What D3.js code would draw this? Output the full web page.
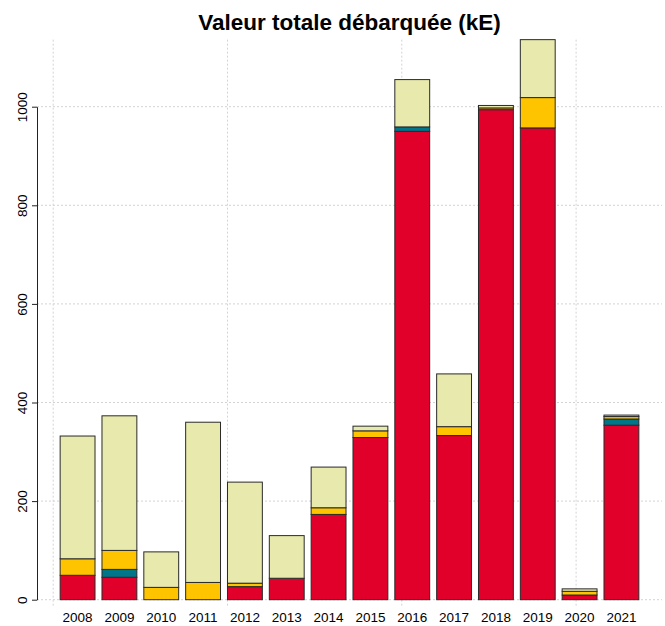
<!DOCTYPE html>
<html>
<head>
<meta charset="utf-8">
<script src="https://cdn.jsdelivr.net/npm/d3@7"></script>
<style>
  body { margin: 0; background: #fff; }
  text { font-family: "Liberation Sans", Arial, sans-serif; }
</style>
</head>
<body>
<div id="chart"></div>
<script>
// values (kE)
const years  = ["2008","2009","2010","2011","2012","2013","2014","2015","2016","2017","2018","2019","2020","2021"];
const red    = [49.5, 45.5, 0, 0, 26.5, 43.5, 173, 329, 950, 333, 994, 957, 9.5, 354];
const teal   = [0, 16, 0, 0, 0, 0, 0, 0, 9, 0, 0, 0, 0, 12.5];
const yellow = [33.5, 38.5, 25, 35, 7, 0, 13.5, 13.5, 0, 18, 3.5, 61.5, 7.5, 5];
const pale   = [249, 273, 72, 325, 205, 86.5, 82.5, 9.5, 96, 107, 5, 117.5, 5, 3];
const yTicks = [0, 200, 400, 600, 800, 1000];
const xGrid  = [0, 5, 10, 15];

const seriesKeys = ["red", "teal", "yellow", "pale"];
const colors = { red: "#E1002A", teal: "#00768A", yellow: "#FFC400", pale: "#E8E9AC" };

const width = 665, height = 626;

const table = years.map((y, i) => ({
  year: y, red: red[i], teal: teal[i], yellow: yellow[i], pale: pale[i]
}));
const stacked = d3.stack().keys(seriesKeys)(table);
const maxTotal = d3.max(table, d => d.red + d.teal + d.yellow + d.pale);

// unit scale like R barplot (bar width 1, space 0.2)
const xu = d3.scaleLinear().domain([-0.464, 17.464]).range([37, 662]);
const x = d3.scaleBand().domain(years)
    .range([xu(0.2), xu(16.8)])
    .paddingInner(1 / 6)
    .paddingOuter(0);

const y = d3.scaleLinear().domain([0, 1000]).range([599.7, 106.7]);

const svg = d3.select("#chart").append("svg")
    .attr("width", width)
    .attr("height", height);

// grid
svg.append("g")
    .selectAll("line.h")
    .data(yTicks)
    .join("line")
    .attr("x1", xu.range()[0]).attr("x2", xu.range()[1])
    .attr("y1", d => y(d)).attr("y2", d => y(d))
    .attr("stroke", "#d3d3d3")
    .attr("stroke-dasharray", "2,2");

svg.append("g")
    .selectAll("line.v")
    .data(xGrid)
    .join("line")
    .attr("x1", d => xu(d)).attr("x2", d => xu(d))
    .attr("y1", y(maxTotal)).attr("y2", y(-16))
    .attr("stroke", "#d3d3d3")
    .attr("stroke-dasharray", "2,2");

// bars
svg.append("g")
    .selectAll("g")
    .data(stacked)
    .join("g")
    .attr("fill", d => colors[d.key])
    .selectAll("rect")
    .data(d => d.filter(s => s[1] - s[0] > 0))
    .join("rect")
    .attr("x", d => x(d.data.year))
    .attr("width", x.bandwidth())
    .attr("y", d => y(d[1]))
    .attr("height", d => y(d[0]) - y(d[1]))
    .attr("stroke", "#2a2a2a")
    .attr("stroke-width", 1);

// y axis (R style: line from first to last tick, rotated labels)
const yAxis = svg.append("g")
    .attr("transform", `translate(${xu.range()[0]},0)`)
    .call(d3.axisLeft(y).tickValues(yTicks).tickFormat(d3.format("d")).tickSize(5).tickSizeOuter(0))
    .call(g => g.select(".domain").attr("stroke", "#222"))
    .call(g => g.selectAll(".tick line").attr("stroke", "#222"));

yAxis.selectAll(".tick text")
    .attr("x", null).attr("dy", null)
    .attr("text-anchor", "middle")
    .attr("transform", "translate(-10,0) rotate(-90)")
    .attr("font-size", 13.5)
    .attr("font-family", "Liberation Sans, Arial, sans-serif")
    .attr("fill", "#000");

// x labels (no axis line)
svg.append("g")
    .selectAll("text")
    .data(years)
    .join("text")
    .attr("x", d => x(d) + x.bandwidth() / 2)
    .attr("y", 621.5)
    .attr("text-anchor", "middle")
    .attr("font-size", 13.5)
    .attr("fill", "#000")
    .text(d => d);

// title
svg.append("text")
    .attr("x", (xu.range()[0] + xu.range()[1]) / 2)
    .attr("y", 30)
    .attr("text-anchor", "middle")
    .attr("font-size", 22.5)
    .attr("font-weight", "bold")
    .attr("fill", "#000")
    .text("Valeur totale débarquée (kE)");
</script>
</body>
</html>
